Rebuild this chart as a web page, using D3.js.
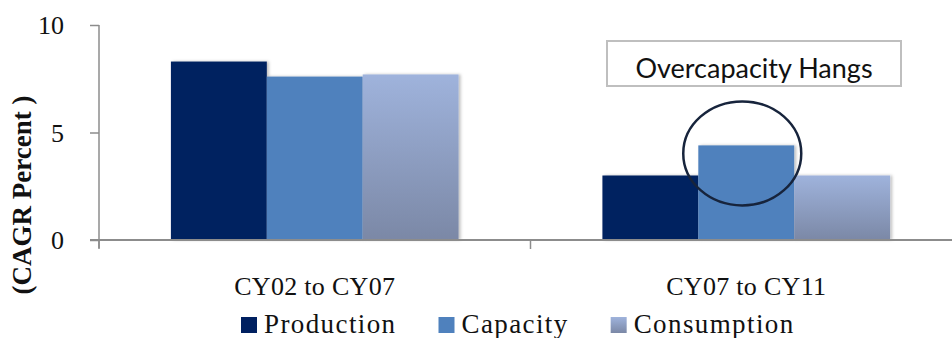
<!DOCTYPE html>
<html>
<head>
<meta charset="utf-8">
<script src="https://cdn.jsdelivr.net/npm/d3@7"></script>
<style>
  body { margin: 0; background: #fff; }
  svg { display: block; }
</style>
</head>
<body>
<div id="chart"></div>
<script>
// chart values
var categories = ['CY02 to CY07', 'CY07 to CY11'];
var series = ['Production', 'Capacity', 'Consumption'];
var production = [8.3, 3.0];
var capacity = [7.6, 4.4];
var consumption = [7.7, 3.0];
var yTicks = [0, 5, 10];
var yLabel = '(CAGR Percent )';
var noteText = 'Overcapacity Hangs';

var values = { Production: production, Capacity: capacity, Consumption: consumption };

var width = 952, height = 338;
var plot = { left: 99, right: 962, top: 25, bottom: 240 };
var serifFont = '"Liberation Serif", "Times New Roman", serif';

var svg = d3.select('#chart').append('svg')
            .attr('width', width)
            .attr('height', height);

var defs = svg.append('defs');

// consumption bars fade from light blue to a greyish blue
var grad = defs.append('linearGradient')
               .attr('id', 'consumptionFill')
               .attr('x1', 0).attr('y1', 0).attr('x2', 0).attr('y2', 1);
grad.append('stop').attr('offset', '0%').attr('stop-color', '#9fb3dc');
grad.append('stop').attr('offset', '100%').attr('stop-color', '#7b88a6');

var shadow = defs.append('filter')
                 .attr('id', 'barShadow')
                 .attr('x', '-10%').attr('y', '-10%')
                 .attr('width', '130%').attr('height', '120%');
shadow.append('feDropShadow')
      .attr('dx', 2).attr('dy', 0)
      .attr('stdDeviation', 1.5)
      .attr('flood-color', '#000')
      .attr('flood-opacity', 0.25);

var colors = {
  Production: '#002060',
  Capacity: '#4f81bd',
  Consumption: 'url(#consumptionFill)'
};

var x0 = d3.scaleBand()
           .domain(categories)
           .range([plot.left, plot.right])
           .paddingInner(1 / 3)
           .paddingOuter(1 / 6);

var x1 = d3.scaleBand()
           .domain(series)
           .range([0, x0.bandwidth()]);

var y = d3.scaleLinear()
          .domain([0, 10])
          .range([plot.bottom, plot.top]);

// bars
var groups = svg.selectAll('g.group')
                .data(categories).enter()
                .append('g')
                .attr('class', 'group')
                .attr('transform', function(c) { return 'translate(' + x0(c) + ',0)'; });

groups.selectAll('rect')
      .data(function(c, i) {
        return series.map(function(s) { return { series: s, value: values[s][i] }; });
      }).enter()
      .append('rect')
      .attr('x', function(d) { return x1(d.series); })
      .attr('y', function(d) { return y(d.value); })
      .attr('width', x1.bandwidth())
      .attr('height', function(d) { return y(0) - y(d.value); })
      .attr('fill', function(d) { return colors[d.series]; })
      .attr('filter', 'url(#barShadow)');

// y axis
var yAxis = d3.axisLeft(y)
              .tickValues(yTicks)
              .tickSize(9)
              .tickPadding(26)
              .tickFormat(d3.format('d'));

var yAxisG = svg.append('g')
                .attr('transform', 'translate(' + plot.left + ',0)')
                .call(yAxis);
yAxisG.select('.domain').attr('d', 'M0,' + plot.top + 'V' + (plot.bottom + 8));
yAxisG.selectAll('line').attr('stroke', '#8c8c8c').attr('stroke-width', 1.5);
yAxisG.select('.domain').attr('stroke', '#8c8c8c').attr('stroke-width', 1.5);
yAxisG.selectAll('text')
      .attr('font-family', serifFont)
      .attr('font-size', 26)
      .attr('fill', '#111');
yAxisG.selectAll('.tick text').attr('dy', '0.34em');

// x axis: baseline plus ticks between categories
var xAxisG = svg.append('g');
xAxisG.append('line')
      .attr('x1', plot.left - 9).attr('x2', plot.right)
      .attr('y1', y(0)).attr('y2', y(0))
      .attr('stroke', '#8c8c8c').attr('stroke-width', 2);

var boundaries = [plot.left, x0(categories[1]) - (x0.step() - x0.bandwidth()) / 2, plot.right];
xAxisG.selectAll('line.tick')
      .data(boundaries).enter()
      .append('line')
      .attr('class', 'tick')
      .attr('x1', function(d) { return d; }).attr('x2', function(d) { return d; })
      .attr('y1', y(0)).attr('y2', y(0) + 9)
      .attr('stroke', '#8c8c8c').attr('stroke-width', 1.5);

xAxisG.selectAll('text')
      .data(categories).enter()
      .append('text')
      .attr('x', function(c) { return x0(c) + x0.bandwidth() / 2; })
      .attr('y', 295)
      .attr('text-anchor', 'middle')
      .attr('font-family', serifFont)
      .attr('font-size', 26)
      .attr('letter-spacing', 0.3)
      .attr('fill', '#111')
      .text(function(c) { return c; });

// y axis title
svg.append('text')
   .attr('transform', 'translate(31,195) rotate(-90)')
   .attr('text-anchor', 'middle')
   .attr('font-family', serifFont)
   .attr('font-weight', 'bold')
   .attr('font-size', 27)
   .attr('fill', '#111')
   .text(yLabel);

// annotation box and circle round the capacity bar
svg.append('rect')
   .attr('x', 607).attr('y', 41)
   .attr('width', 294).attr('height', 45)
   .attr('fill', '#fff')
   .attr('stroke', '#bfbfbf')
   .attr('stroke-width', 2);

svg.append('text')
   .attr('x', 754).attr('y', 78)
   .attr('text-anchor', 'middle')
   .attr('font-family', 'Lato, "Open Sans", sans-serif')
   .attr('font-size', 27)
   .attr('fill', '#111')
   .text(noteText);

var capX = x0(categories[1]) + x1('Capacity') + x1.bandwidth() / 2;
svg.append('ellipse')
   .attr('cx', capX - 4)
   .attr('cy', y(capacity[1]) + 8)
   .attr('rx', 59).attr('ry', 52)
   .attr('fill', 'none')
   .attr('stroke', '#17243c')
   .attr('stroke-width', 2.5);

// legend
var legend = svg.append('g').attr('transform', 'translate(241,0)');
var lx = 0;
series.forEach(function(s) {
  var item = legend.append('g').attr('transform', 'translate(' + lx + ',0)');
  item.append('rect')
      .attr('x', 0).attr('y', 317)
      .attr('width', 16).attr('height', 16)
      .attr('fill', colors[s]);
  var t = item.append('text')
              .attr('x', 23).attr('y', 333)
              .attr('font-family', serifFont)
              .attr('font-size', 27)
              .attr('letter-spacing', 1.4)
              .attr('fill', '#111')
              .text(s);
  lx += 23 + t.node().getComputedTextLength() + 42;
});
</script>
</body>
</html>
